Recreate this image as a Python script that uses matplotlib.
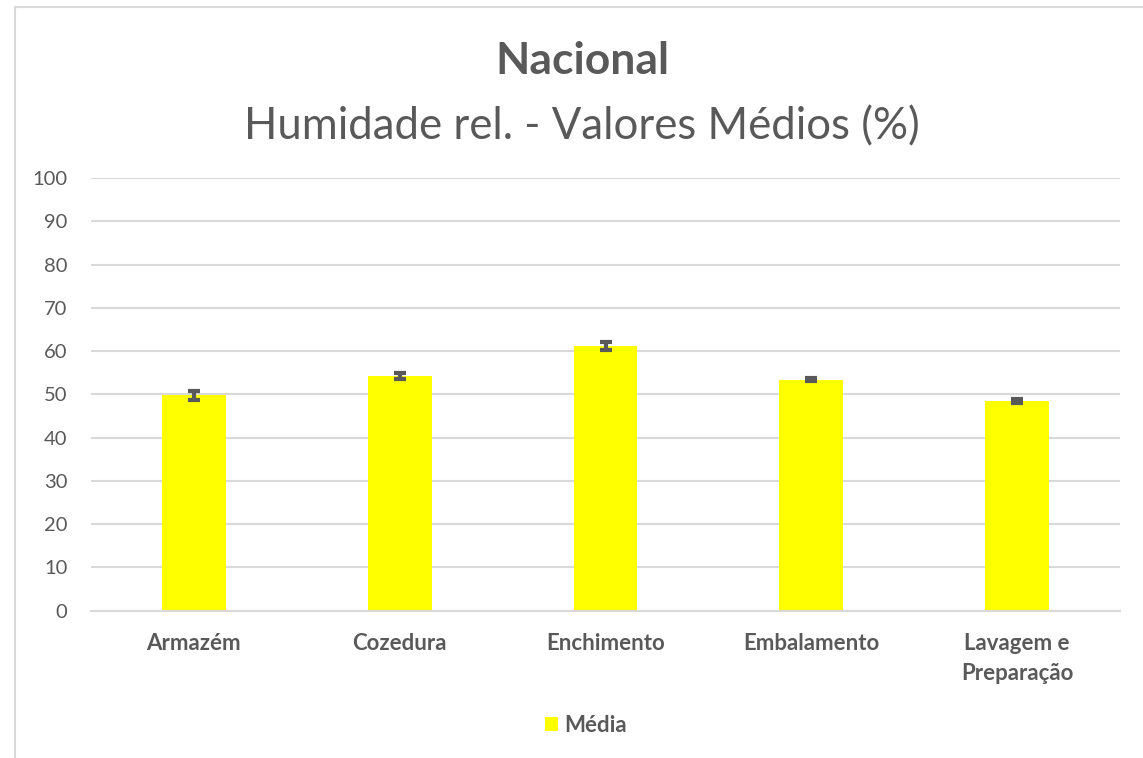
import matplotlib.pyplot as plt
from matplotlib.patches import Rectangle

categorias = ["Armazém", "Cozedura", "Enchimento", "Embalamento", "Lavagem e\nPreparação"]
media = [49.8, 54.2, 61.2, 53.4, 48.4]
erro = [1.0, 0.7, 0.9, 0.4, 0.5]

cinza = "#595959"
plt.rcParams['font.family'] = ['Lato', 'DejaVu Sans']

fig = plt.figure(figsize=(11.43, 7.58), dpi=100)
# moldura do grafico (cortada a direita e em baixo)
fig.patches.append(Rectangle((15/1143, -0.05), 1.1, 0.05 + 1 - 7/758,
                             transform=fig.transFigure, fill=False,
                             edgecolor="#d9d9d9", linewidth=1.5))

ax = fig.add_axes([91/1143, 1 - 610.7/758, (1120 - 91)/1143, (610.7 - 178)/758])
x = list(range(len(categorias)))
ax.bar(x, media, width=0.31, color="#ffff00", zorder=2, label="Média")
ax.errorbar(x, media, yerr=erro, fmt="none", ecolor=cinza, elinewidth=3,
            capsize=4.5, capthick=3, zorder=3)

ax.set_xlim(-0.5, len(categorias) - 0.5)
ax.set_ylim(0, 100)
ax.set_yticks(range(0, 101, 10))
ax.grid(axis="y", color="#d9d9d9", linewidth=1.5, zorder=0)
for s in ["top", "right", "left"]:
    ax.spines[s].set_visible(False)
ax.spines["bottom"].set_color("#d9d9d9")
ax.spines["bottom"].set_linewidth(1.5)
ax.tick_params(axis="both", length=0, colors=cinza, labelsize=14.5)
ax.tick_params(axis="y", pad=17)
ax.tick_params(axis="x", pad=16)
ax.set_xticks(x)
ax.set_xticklabels(categorias, fontweight="bold", fontsize=16, linespacing=1.55,
                   va="top")

fig.text(582/1143, 1 - 61/758, "Nacional", ha="center", va="center",
         fontsize=32, fontweight="bold", color=cinza)
fig.text(582/1143, 1 - 127/758, "Humidade rel. - Valores Médios (%)", ha="center",
         va="center", fontsize=31.5, color=cinza)

leg = fig.legend(loc="center", bbox_to_anchor=(586/1143, 1 - 725/758), frameon=False,
                 handlelength=0.6, handleheight=0.6, handletextpad=0.3,
                 prop={"weight": "bold", "size": 16})
for t in leg.get_texts():
    t.set_color(cinza)

fig.savefig("out.png", dpi=100)
